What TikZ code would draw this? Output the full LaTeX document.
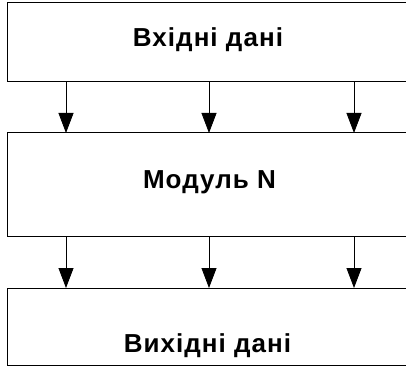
\documentclass[tikz,border=0pt]{standalone}
\usepackage{fontspec}
\setmainfont[LetterSpace=4]{Liberation Sans}
\usetikzlibrary{arrows.meta}
\begin{document}
\begin{tikzpicture}[x=1pt,y=-1pt,
  box/.style={draw=black,line width=1pt,minimum width=413pt,inner sep=0pt,outer sep=0pt},
  lbl/.style={anchor=base,inner sep=0pt,font=\fontsize{26}{30}\selectfont\bfseries},
  conn/.style={line width=0.8pt,-{Triangle[width=15pt,length=20pt]}}]
\useasboundingbox (0,0) rectangle (406,366);
\clip (0,0) rectangle (406,366);
\fill[white] (0,0) rectangle (406,366);
\node[box,minimum height=79pt] (in) at (213.5,42.5) {};
\node[box,minimum height=103pt] (mod) at (213.5,184.5) {};
\node[box,minimum height=77pt] (out) at (213.5,326.5) {};
\node[lbl] (tin) at (208,47) {Вхідні дані};
\node[lbl] (tmod) at (209.5,188) {Модуль N};
\node[lbl] (tout) at (207.5,352) {Вихідні дані};
\coordinate (c1) at (66,0);
\coordinate (c2) at (209,0);
\coordinate (c3) at (354,0);
\foreach \c in {c1,c2,c3}{
  \draw[conn] (in.south -| \c) -- (mod.north -| \c);
  \draw[conn] (mod.south -| \c) -- (out.north -| \c);
}
\end{tikzpicture}
\end{document}
